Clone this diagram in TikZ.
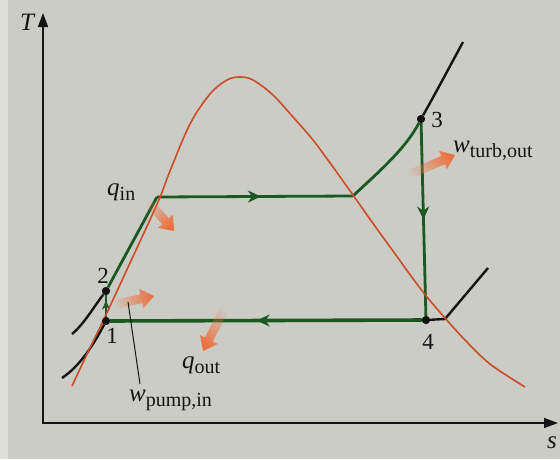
\documentclass[tikz,border=0pt]{standalone}
\usepackage{fontspec}
\setmainfont{Liberation Serif}
\usetikzlibrary{arrows.meta,calc,decorations.markings,fadings}
\definecolor{bgc}{RGB}{204,204,198}
\definecolor{edgec}{RGB}{224,224,219}
\definecolor{cyc}{RGB}{28,88,36}
\definecolor{dome}{RGB}{205,75,40}
\definecolor{heat}{RGB}{236,112,62}
\definecolor{ink}{RGB}{20,20,20}
\tikzfading[name=tailfade, left color=transparent!100, middle color=transparent!35, right color=transparent!0]
\newcommand\sublbl[2]{\textit{#1}\raisebox{-5pt}{\fontsize{20}{24}\selectfont #2}}
\newcommand\fatarrow[3]{%
  \coordinate (hb) at ($(#2)!13pt!(#1)$);
  \fill[heat, path fading=tailfade, fading angle=#3]
    ($(#1)!4.5pt!90:(#2)$) -- ($(hb)!4.5pt!90:(#2)$) -- ($(hb)!10pt!90:(#2)$) --
    (#2) -- ($(hb)!10pt!-90:(#2)$) -- ($(hb)!4.5pt!-90:(#2)$) -- ($(#1)!4.5pt!-90:(#2)$) -- cycle;}
\begin{document}
\begin{tikzpicture}[x=1pt,y=-1pt,
  dot/.style={circle,fill=ink,inner sep=0pt,minimum size=8pt},
  lbl/.style={inner sep=0pt,anchor=base west,font=\fontsize{25}{30}\selectfont,text=ink},
  num/.style={inner sep=0pt,anchor=base,font=\fontsize{23}{28}\selectfont,text=ink},
  axis/.style={draw=ink,line width=1.6pt,{Triangle[length=14pt,width=10pt]}-{Triangle[length=14pt,width=10pt]}},
  cyc line/.style={draw=cyc,line width=2.8pt},
  iso/.style={draw=ink,line width=2.4pt},
  domeline/.style={draw=dome,line width=1.6pt},
  midarrow/.style={postaction={decorate},decoration={markings,mark=at position #1 with {\arrow{Stealth[length=13pt,width=12pt]}}}},
  smallarrow/.style={postaction={decorate},decoration={markings,mark=at position #1 with {\arrow{Stealth[length=9pt,width=8pt]}}}}
 ]
\fill[bgc] (0,0) rectangle (560,459);
\fill[edgec] (0,0) rectangle (8,459);
\useasboundingbox (0,0) rectangle (560,459);

% axes
\coordinate (O) at (43,423);
\coordinate (Ttip) at (43,13);
\coordinate (stip) at (558,423);
\draw[axis] (Ttip) -- (O) -- (stip);
\node[lbl] (Tl) at (20,30) {\textit{T}};
\node[lbl] (sl) at (547,448) {\textit{s}};

% state points
\node[dot] (p1) at (106,321) {};
\node[dot] (p2) at (106,291) {};
\node[dot] (p3) at (421,119) {};
\node[dot] (p4) at (426,320) {};
\coordinate (fL) at (157,197);
\coordinate (gR) at (353,196);
\coordinate (k1) at (445,319);
\coordinate (k2) at (488,268);
\coordinate (k3) at (463,42);
\coordinate (k4) at (72,334);
\coordinate (k5) at (62,378);

% isobars (black)
\draw[iso] (p4) -- (k1) -- (k2);
\draw[iso] (p3) .. controls (434,96) and (449,68) .. (k3);
\draw[iso] (p2) .. controls (93,308) and (84,324) .. (k4);
\draw[iso] (p1) .. controls (94,344) and (80,366) .. (k5);

% cycle (green)
\draw[cyc line, smallarrow=0.75] (p1) -- (p2);
\draw[cyc line] (p2) -- (fL);
\draw[cyc line, midarrow=0.53] (fL) -- (gR);
\draw[cyc line] (gR) .. controls (375,175) and (405,150) .. (p3);
\draw[cyc line, midarrow=0.5] (p3) -- (p4);
\draw[cyc line, line width=3.6pt, midarrow=0.53] (p4) -- (p1);

% saturation dome
\draw[domeline] plot[smooth,tension=0.55] coordinates {(72,386) (88,352) (104,319) (130,263) (158,202) (170,171) (190,124) (210,94) (227,80) (240,77) (253,80) (273,95) (293,117) (313,140) (333,167) (353,195) (372,222) (393,251) (411,276) (427,297) (445,318) (465,340) (490,364) (525,387)};

% redraw dots on top
\node[dot] at (p1) {};
\node[dot] at (p2) {};
\node[dot] at (p3) {};
\node[dot] at (p4) {};

% heat / work arrows
\coordinate (a1t) at (146,199); \coordinate (a1h) at (174,231);
\coordinate (a2t) at (112,305); \coordinate (a2h) at (154,296);
\coordinate (a3t) at (226,306); \coordinate (a3h) at (203,351);
\coordinate (a4t) at (406,176); \coordinate (a4h) at (455,155);
\fatarrow{a1t}{a1h}{-49}
\fatarrow{a2t}{a2h}{12}
\fatarrow{a3t}{a3h}{243}
\fatarrow{a4t}{a4h}{23}

% leader for pump work
\coordinate (ld1) at (128,302);
\coordinate (ld2) at (140,384);
\draw[ink, line width=1pt] (ld1) -- (ld2);

% labels
\node[lbl] (qin) at (107,195) {\sublbl{q}{in}};
\node[lbl] (qout) at (182,368) {\sublbl{q}{out}};
\node[lbl] (wturb) at (453,152) {\sublbl{w}{turb,out}};
\node[lbl] (wpump) at (129,401) {\sublbl{w}{pump,in}};
\node[num] (n1) at (112,343) {1};
\node[num] (n2) at (103,283) {2};
\node[num] (n3) at (437,127) {3};
\node[num] (n4) at (428,349) {4};
\end{tikzpicture}
\end{document}
